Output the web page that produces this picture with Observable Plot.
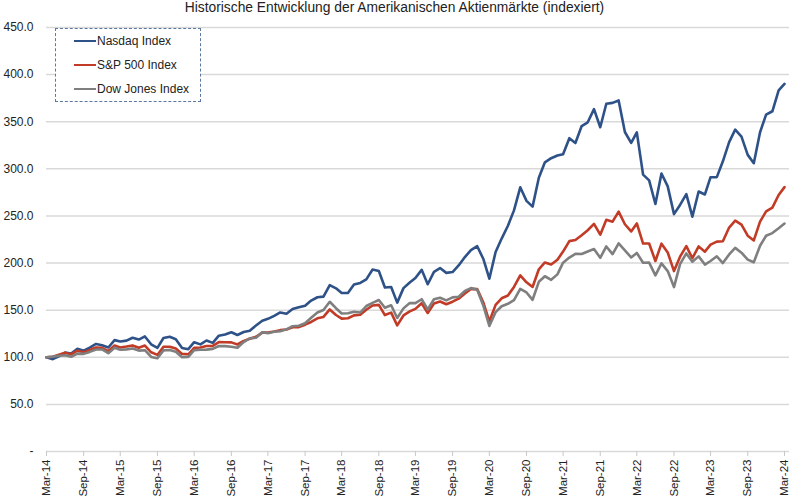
<!DOCTYPE html>
<html>
<head>
<meta charset="utf-8">
<script src="https://cdn.jsdelivr.net/npm/d3@7"></script>
<script src="https://cdn.jsdelivr.net/npm/@observablehq/plot@0.6"></script>
<style>
  body { margin: 0; background: #fff; }
  #wrap { position: relative; width: 789px; height: 497px; font-family: "Liberation Sans", Arial, sans-serif; }
  #title { position: absolute; top: 0px; left: 0; width: 789px; text-align: center; font-size: 13.8px; color: #222; }
  #legend { position: absolute; left: 55px; top: 28px; width: 144px; height: 72px; border: 1px dashed #5a78a0; background: #fff; }
  .item { position: absolute; left: 18px; font-size: 12px; color: #222; display: flex; align-items: center; }
  .sw { width: 22px; height: 2.5px; margin-right: 1px; }
</style>
</head>
<body>
<div id="wrap">
  <div id="chart"></div>
  <div id="title">Historische Entwicklung der Amerikanischen Aktienmärkte (indexiert)</div>
  <div id="legend"></div>
</div>
<script>
// Monthly values, indexed (Mar-14 = 100), Mar-14 .. Mar-24
const nasdaq = [
  100, 98.0, 101.0, 105.0, 104.1, 109.1, 107.0, 110.3, 114.1, 112.8,
  110.4, 118.2, 116.7, 117.7, 120.7, 118.8, 122.1, 113.8, 110.0, 120.4, 121.7, 119.2,
  109.9, 108.6, 116.0, 113.7, 117.8, 115.3, 122.9, 124.1, 126.5, 123.6, 126.8, 128.2,
  133.7, 138.7, 140.8, 144.0, 147.6, 146.2, 151.2, 153.1, 154.7, 160.2, 163.7, 164.4,
  176.5, 173.2, 168.2, 168.3, 177.2, 178.9, 182.7, 193.1, 191.6, 174.0, 174.6, 158.0,
  173.4, 179.4, 184.1, 192.8, 177.5, 190.7, 194.7, 189.6, 190.5, 197.5, 206.4, 213.7,
  217.9, 204.0, 183.4, 211.7, 226.0, 239.6, 255.9, 280.4, 266.0, 259.9, 290.5, 306.9,
  311.3, 314.2, 315.5, 332.5, 327.4, 345.4, 349.4, 363.4, 344.1, 369.1, 370.0, 372.6,
  339.1, 327.5, 338.7, 293.8, 287.7, 262.7, 295.1, 281.4, 251.9, 261.7, 273.1, 249.2,
  275.9, 272.8, 291.1, 291.2, 308.0, 328.4, 341.6, 334.2, 314.8, 306.0, 338.8, 357.5,
  361.1, 383.2, 390.1
];
const sp500 = [
  100, 100.6, 102.7, 104.7, 103.1, 107.0, 105.3, 107.8, 110.4, 110.0,
  106.6, 112.4, 110.4, 111.4, 112.6, 110.2, 112.4, 105.3, 102.5, 111.1, 111.1, 109.2,
  103.6, 103.2, 110.0, 110.3, 112.0, 112.1, 116.1, 116.0, 115.8, 113.6, 117.4, 119.6,
  121.7, 126.2, 126.2, 127.3, 128.8, 129.4, 131.9, 132.0, 134.6, 137.5, 141.4, 142.8,
  150.8, 144.9, 141.0, 141.4, 144.5, 145.2, 150.4, 155.0, 155.6, 144.8, 147.4, 133.9,
  144.4, 148.7, 151.4, 157.3, 147.0, 157.1, 159.2, 156.3, 159.0, 162.2, 167.8, 172.6,
  172.3, 157.8, 138.0, 155.6, 162.6, 165.6, 174.7, 186.9, 179.6, 174.6, 193.4, 200.6,
  198.4, 203.6, 212.2, 223.3, 224.5, 229.5, 234.8, 241.6, 230.1, 246.0, 243.9, 254.6,
  241.2, 233.6, 242.0, 220.7, 220.7, 202.2, 220.6, 211.2, 191.5, 206.8, 217.9, 205.1,
  217.7, 212.1, 219.5, 222.7, 223.2, 237.7, 245.1, 240.8, 229.0, 224.0, 244.0, 254.8,
  258.8, 272.2, 280.6
];
const dow = [
  100, 100.7, 101.6, 102.2, 100.6, 103.9, 103.6, 105.7, 108.3, 108.3,
  104.3, 110.2, 108.0, 108.4, 109.4, 107.1, 107.5, 100.4, 98.9, 107.3, 107.7, 105.9,
  100.1, 100.4, 107.5, 108.0, 108.1, 108.9, 112.0, 111.8, 111.2, 110.2, 116.2, 120.1,
  120.7, 126.5, 125.6, 127.2, 127.7, 129.7, 133.0, 133.4, 136.1, 142.0, 147.5, 150.2,
  158.9, 152.1, 146.5, 146.8, 148.4, 147.5, 154.4, 157.8, 160.8, 152.6, 155.2, 141.7,
  151.9, 157.5, 157.5, 161.6, 150.8, 161.6, 163.2, 160.4, 163.6, 164.3, 170.4, 173.4,
  171.7, 154.4, 133.2, 147.9, 154.2, 156.8, 160.6, 172.7, 168.8, 161.0, 180.1, 186.0,
  182.2, 188.0, 200.4, 205.8, 209.8, 209.6, 212.3, 214.9, 205.6, 217.6, 209.5, 220.8,
  213.5, 205.9, 210.7, 200.4, 200.5, 187.0, 199.6, 191.5, 174.5, 198.9, 210.2, 201.4,
  207.1, 198.4, 202.2, 207.2, 200.0, 209.1, 216.1, 211.0, 203.6, 200.8, 218.4, 229.0,
  231.8, 236.9, 241.9
];
const seriesNames = ["Nasdaq Index", "S&P 500 Index", "Dow Jones Index"];
const seriesColors = ["#2e5288", "#c23b26", "#7f7f7f"];
const tickLabels = ["Mar-14","Sep-14","Mar-15","Sep-15","Mar-16","Sep-16","Mar-17","Sep-17","Mar-18","Sep-18",
  "Mar-19","Sep-19","Mar-20","Sep-20","Mar-21","Sep-21","Mar-22","Sep-22","Mar-23","Sep-23","Mar-24"];
const yTicks = [0, 50, 100, 150, 200, 250, 300, 350, 400, 450];

const start = new Date(Date.UTC(2014, 2, 1));
const month = i => d3.utcMonth.offset(start, i);
const allSeries = [nasdaq, sp500, dow];
const rows = allSeries.map((vals, s) => vals.map((v, i) => ({date: month(i), value: v, series: seriesNames[s]})));
const tickDates = tickLabels.map((_, i) => month(i * 6));
const fmtX = d => tickLabels[Math.round(d3.utcMonth.count(start, d) / 6)];

const chart = Plot.plot({
  width: 789,
  height: 497,
  marginLeft: 46,
  marginRight: 5,
  marginTop: 27,
  marginBottom: 46,
  style: {fontFamily: "Liberation Sans, Arial, sans-serif", fontSize: "11px", color: "#222", background: "#fff"},
  x: {type: "utc", domain: [month(0), month(120)], label: null},
  y: {domain: [0, 450], label: null},
  marks: [
    Plot.ruleY(yTicks, {stroke: "#d9d9d9", strokeWidth: 1.5, insetRight: -5}),
    Plot.axisY({ticks: yTicks, tickSize: 0, tickPadding: 13, fontSize: 12, label: null,
      tickFormat: d => d === 0 ? "-" : d.toFixed(1)}),
    Plot.axisX({ticks: tickDates, tickFormat: fmtX, tickRotate: -90, tickSize: 5, tickPadding: 3,
      stroke: "#c8c8c8", fontSize: 11.5, label: null}),
    ...rows.map((r, s) => Plot.line(r, {x: "date", y: "value", stroke: seriesColors[s], strokeWidth: 2.6, strokeLinejoin: "round"}))
  ]
});
document.getElementById("chart").append(chart);

const legend = document.getElementById("legend");
seriesNames.forEach((name, i) => {
  const it = document.createElement("div");
  it.className = "item";
  it.style.top = (5 + i * 24) + "px";
  const sw = document.createElement("span");
  sw.className = "sw";
  sw.style.background = seriesColors[i];
  const t = document.createElement("span");
  t.textContent = name;
  it.append(sw, t);
  legend.append(it);
});
</script>
</body>
</html>
